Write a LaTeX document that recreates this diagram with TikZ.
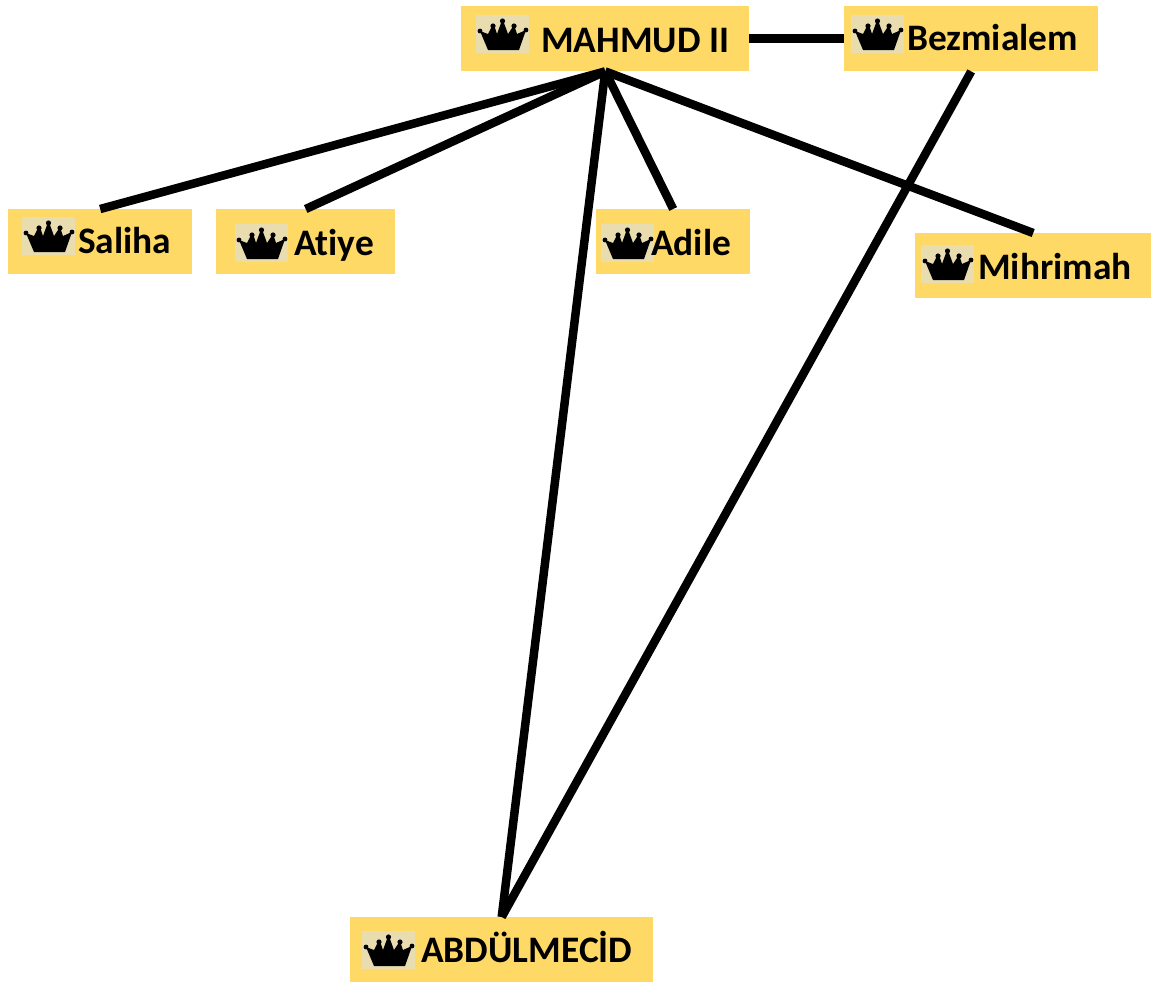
\documentclass[tikz,border=0pt]{standalone}
\usepackage{fontspec}
\setmainfont[Ligatures=NoCommon]{Carlito}
\definecolor{boxfill}{HTML}{FFD966}
\definecolor{crownbg}{HTML}{E9DDB0}
\tikzset{
  box/.style={fill=boxfill,draw=none,inner sep=0pt,anchor=north west},
  lbl/.style={font=\fontsize{37.4}{44}\selectfont\bfseries,text=black,anchor=base west,inner sep=0pt},
  link/.style={line width=8.5pt,black},
  pics/crown/.style={code={
    \fill[crownbg] (0,0) rectangle (53,38);
    \fill[black] (4,16) -- (12,19) -- (15,13) -- (19,13) -- (21,19) -- (25,8) -- (28,8) -- (32,19) -- (36,13) -- (39,13) -- (41,19) -- (50,15) -- (43,35) -- (12,35) -- cycle;
    \fill[black] (4,16) circle (2.4) (17,11) circle (2.6) (26.5,6) circle (2.6) (38,11) circle (2.6) (50,15) circle (2.4);
  }}
}
\begin{document}
\begin{tikzpicture}[x=1pt,y=-1pt]
\useasboundingbox (0,0) rectangle (1153,994);
\node[box,minimum width=288pt,minimum height=65pt] (mahmud) at (461,6) {};
\node[box,minimum width=254pt,minimum height=65pt] (bezmialem) at (844,6) {};
\node[box,minimum width=184pt,minimum height=65pt] (saliha) at (8,209) {};
\node[box,minimum width=179pt,minimum height=65pt] (atiye) at (216,209) {};
\node[box,minimum width=154pt,minimum height=65pt] (adile) at (596,209) {};
\node[box,minimum width=236pt,minimum height=65pt] (mihrimah) at (915,233) {};
\node[box,minimum width=303pt,minimum height=65pt] (abdulmecid) at (350,917) {};
\pic at (476,15) {crown};
\pic at (851,15) {crown};
\pic at (22,217) {crown};
\pic at (235,224) {crown};
\pic at (601,224) {crown};
\pic at (921,245) {crown};
\pic at (362,931) {crown};
\node[lbl] (t1) at (541,52) {MAHMUD II};
\node[lbl] (t2) at (907,50) {Bezmialem};
\node[lbl] (t3) at (78,253) {Saliha};
\node[lbl] (t4) at (294,255) {Atiye};
\node[lbl] (t5) at (651,255) {Adile};
\node[lbl] (t6) at (978,279) {Mihrimah};
\node[lbl] (t7) at (421,962) {ABDÜLMECİD};
\draw[link] (mahmud.east) -- (bezmialem.west);
\draw[link] (mahmud.south) -- (saliha.north);
\draw[link] (mahmud.south) -- (atiye.north);
\draw[link] (mahmud.south) -- (adile.north);
\draw[link] (mahmud.south) -- (mihrimah.north);
\draw[link] (mahmud.south) -- (abdulmecid.north);
\draw[link] (bezmialem.south) -- (abdulmecid.north);
\end{tikzpicture}
\end{document}
